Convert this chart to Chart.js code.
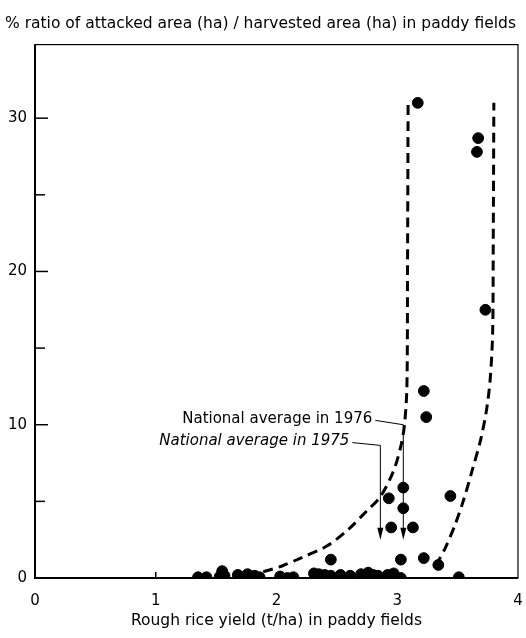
<!DOCTYPE html>
<html>
<head>
<meta charset="utf-8">
<script src="https://cdn.jsdelivr.net/npm/chart.js@4/dist/chart.umd.min.js"></script>
<style>
  html, body { margin: 0; padding: 0; background: #fff; }
  canvas { display: block; }
</style>
</head>
<body>
<canvas id="chart" width="526" height="638"></canvas>
<script>
// rough rice yield (t/ha) of each observed field
const yieldValues = [1.35, 1.42, 1.53, 1.55, 1.57, 1.68, 1.76, 1.82, 1.86, 2.03, 2.09, 2.14,
  2.31, 2.35, 2.40, 2.45, 2.45, 2.53, 2.61, 2.70, 2.76, 2.80, 2.84, 2.92, 2.97, 3.03, 3.03,
  2.95, 2.93, 3.05, 3.05, 3.13, 3.22, 3.34, 3.51, 3.44, 3.22, 3.24, 3.73, 3.66, 3.67, 3.17];
// % attacked / harvested area
const ratioValues = [0.05, 0.05, 0.1, 0.45, 0.15, 0.2, 0.25, 0.15, 0.05, 0.1, 0.0, 0.05,
  0.3, 0.25, 0.2, 0.15, 1.2, 0.2, 0.15, 0.25, 0.35, 0.2, 0.15, 0.2, 0.3, 0.0, 1.2,
  3.3, 5.2, 5.9, 4.55, 3.3, 1.3, 0.85, 0.05, 5.35, 12.2, 10.5, 17.5, 27.8, 28.7, 31.0];

// dashed envelope curves
const curveLeftX = [1.89, 2.05, 2.2, 2.42, 2.6, 2.75, 2.86, 2.97, 3.03, 3.06, 3.08, 3.085, 3.09];
const curveLeftY = [0.4, 0.8, 1.3, 2.1, 3.2, 4.4, 5.3, 7.0, 8.6, 10.0, 12.5, 20, 31.1];
const curveRightX = [3.32, 3.4, 3.48, 3.55, 3.62, 3.69, 3.74, 3.77, 3.79, 3.795, 3.80];
const curveRightY = [0.8, 2.0, 3.5, 5.1, 7.0, 9.0, 11.0, 13.0, 16.0, 22, 31.0];

// national averages (t/ha)
const avgLabels = ['National average in 1976', 'National average in 1975'];
const avgYield = [3.05, 2.86];

const xTicks = [0, 1, 2, 3, 4];
const yTicks = [0, 10, 20, 30];

const FONT = "'DejaVu Sans', 'Liberation Sans', sans-serif";

const toPts = (xs, ys) => xs.map((x, i) => ({ x: x, y: ys[i] }));

// frame, inward ticks and annotation arrows
const decorations = {
  id: 'decorations',
  afterDraw(chart) {
    const ctx = chart.ctx;
    const a = chart.chartArea;
    const xs = chart.scales.x, ys = chart.scales.y;
    ctx.save();
    ctx.strokeStyle = '#000';
    ctx.lineWidth = 1.2;
    ctx.strokeRect(a.left, a.top, a.right - a.left, a.bottom - a.top);
    ctx.lineWidth = 2;
    ctx.beginPath();
    ctx.moveTo(a.left, a.top);
    ctx.lineTo(a.left, a.bottom);
    ctx.lineTo(a.right, a.bottom);
    ctx.stroke();

    // y ticks every 5
    ctx.lineWidth = 1.5;
    for (let v = 5; v <= 30; v += 5) {
      const py = ys.getPixelForValue(v);
      ctx.beginPath();
      ctx.moveTo(a.left, py);
      ctx.lineTo(a.left + (v % 10 === 0 ? 13 : 10), py);
      ctx.stroke();
    }
    // x ticks
    [1, 2, 3].forEach(v => {
      const px = xs.getPixelForValue(v);
      ctx.beginPath();
      ctx.moveTo(px, a.bottom);
      ctx.lineTo(px, a.bottom - 6);
      ctx.stroke();
    });

    // annotation arrows
    const textY = [10.35, 8.9];
    const cornerY = [10.0, 8.65];
    const tipY = 2.5;
    ctx.fillStyle = '#000';
    ctx.textBaseline = 'middle';
    ctx.textAlign = 'right';
    avgLabels.forEach((label, i) => {
      const tx = xs.getPixelForValue(avgYield[i]) - 28;
      const ty = ys.getPixelForValue(textY[i]);
      ctx.font = (i === 1 ? 'italic ' : '') + '15px ' + FONT;
      ctx.fillText(label, tx - 3, ty);
      const cx = xs.getPixelForValue(avgYield[i]);
      const cy = ys.getPixelForValue(cornerY[i]);
      const by = ys.getPixelForValue(tipY);
      ctx.lineWidth = 1;
      ctx.beginPath();
      ctx.moveTo(tx, ty + 1);
      ctx.lineTo(cx, cy);
      ctx.lineTo(cx, by - 8);
      ctx.stroke();
      ctx.beginPath();
      ctx.moveTo(cx - 3, by - 12);
      ctx.lineTo(cx, by);
      ctx.lineTo(cx + 3, by - 12);
      ctx.closePath();
      ctx.fill();
    });
    ctx.restore();
  }
};

const dashed = {
  type: 'line',
  showLine: true,
  borderColor: '#000',
  borderWidth: 3,
  borderDash: [10, 6],
  pointRadius: 0,
  tension: 0.3,
  fill: false
};

// invisible tick marks only used to push the labels away from the axis
const hiddenGrid = len => ({
  display: true,
  drawOnChartArea: false,
  drawTicks: true,
  tickLength: len,
  color: 'rgba(0,0,0,0)'
});

new Chart(document.getElementById('chart'), {
  type: 'scatter',
  data: {
    datasets: [
      Object.assign({ data: toPts(curveLeftX, curveLeftY) }, dashed),
      Object.assign({ data: toPts(curveRightX, curveRightY) }, dashed),
      {
        data: toPts(yieldValues, ratioValues),
        backgroundColor: '#000',
        borderColor: '#000',
        pointRadius: 5.4,
        pointHoverRadius: 5.4
      }
    ]
  },
  options: {
    responsive: false,
    animation: false,
    devicePixelRatio: 1,
    layout: { autoPadding: false, padding: { left: 5, right: 8, top: 0, bottom: 0 } },
    plugins: {
      legend: { display: false },
      tooltip: { enabled: false },
      title: {
        display: true,
        align: 'start',
        text: '% ratio of attacked area (ha) / harvested area (ha) in paddy fields',
        color: '#000',
        font: { family: FONT, size: 15.5, weight: 'normal' },
        padding: { top: 15, bottom: 11 }
      }
    },
    scales: {
      x: {
        type: 'linear',
        min: 0,
        max: 4,
        afterFit: s => { s.height = 60; },
        grid: hiddenGrid(14),
        border: { display: false },
        ticks: {
          stepSize: 1,
          padding: 0,
          color: '#000',
          font: { family: FONT, size: 15 },
          callback: v => xTicks.includes(v) ? String(v) : ''
        },
        title: {
          display: true,
          text: 'Rough rice yield (t/ha) in paddy fields',
          color: '#000',
          font: { family: FONT, size: 15.5 },
          padding: { top: 0, bottom: 8 }
        }
      },
      y: {
        type: 'linear',
        min: 0,
        max: 34.8,
        afterFit: s => { s.width = 30; },
        grid: hiddenGrid(8),
        border: { display: false },
        ticks: {
          stepSize: 5,
          includeBounds: false,
          padding: 0,
          color: '#000',
          font: { family: FONT, size: 15 },
          callback: v => yTicks.includes(v) ? String(v) : ''
        }
      }
    }
  },
  plugins: [decorations]
});
</script>
</body>
</html>
